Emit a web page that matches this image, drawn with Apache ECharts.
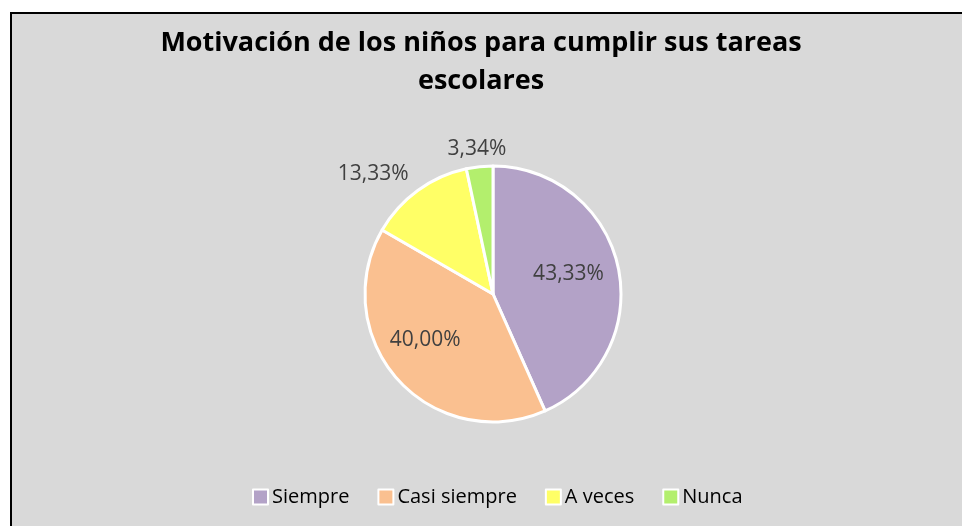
<!DOCTYPE html>
<html>
<head>
<meta charset="utf-8">
<script src="https://cdn.jsdelivr.net/npm/echarts@6/dist/echarts.min.js"></script>
<style>
html,body{margin:0;padding:0;background:#fff;overflow:hidden;}
#frame{position:absolute;left:10px;top:12px;width:960px;height:520px;border-top:2px solid #000;border-left:2px solid #000;background:#d9d9d9;}
#chart{position:absolute;left:0;top:0;width:962px;height:526px;}
</style>
</head>
<body>
<div id="frame"></div>
<div id="chart"></div>
<script>
var categorias=['Siempre','Casi siempre','A veces','Nunca'];
var porcentajes=[43.33,40.00,13.33,3.34];
var colores=['#b3a2c7','#fac090','#ffff66','#b3ef6d'];
var posiciones=['inside','inside','outside','outside'];

function loadPie(){
	var myChart=echarts.init(document.getElementById('chart'));
	var datos=[];
	for(var i=0;i<categorias.length;i++){
		datos.push({
			value:porcentajes[i],
			name:categorias[i],
			itemStyle:{color:colores[i]},
			label:{position:posiciones[i]}
		});
	}
	// small nudges so labels sit where the original puts them
	var ajuste=[[10,-6],[-18,1],[3,-7],[33,-6]];
	var option={
		backgroundColor:'transparent',
		title:{
			text:'Motivación de los niños para cumplir sus tareas\nescolares',
			left:'center',
			top:19,
			textStyle:{fontFamily:'Open Sans',fontWeight:'bold',fontSize:27,color:'#000',lineHeight:38}
		},
		legend:{
			bottom:14,
			left:247,
			itemWidth:15,
			itemHeight:15,
			itemGap:28,
			icon:'rect',
			itemStyle:{borderColor:'#fff',borderWidth:2},
			textStyle:{fontFamily:'Open Sans',fontSize:20,color:'#000',padding:[0,0,0,-1]},
			data:categorias
		},
		series:[{
			type:'pie',
			center:[493,294],
			radius:[0,128],
			startAngle:90,
			clockwise:true,
			animation:false,
			itemStyle:{borderColor:'#fff',borderWidth:3},
			label:{
				fontFamily:'Open Sans',
				fontSize:21,
				color:'#404040',
				formatter:function(p){return p.value.toFixed(2).replace('.',',')+'%';}
			},
			labelLine:{show:false,length:12,length2:0},
			labelLayout:function(p){
				var a=ajuste[p.dataIndex];
				return {dx:a[0],dy:a[1]};
			},
			data:datos
		}]
	};
	myChart.setOption(option);
}
loadPie();
</script>
</body>
</html>
